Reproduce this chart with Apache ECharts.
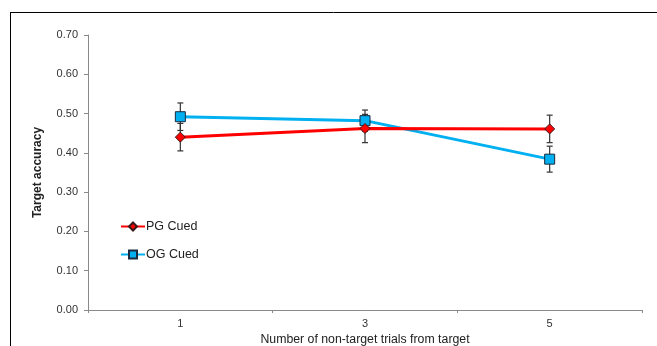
<!DOCTYPE html>
<html><head><meta charset="utf-8">
<script src="https://cdn.jsdelivr.net/npm/echarts@6/dist/echarts.min.js"></script>
<style>html,body{margin:0;padding:0;background:#fff}#c{width:657px;height:346px}</style>
</head><body><div id="c"></div>
<script>
const categories = ['1', '3', '5'];
const pgMean = [0.440, 0.462, 0.461];
const pgErr  = [0.035, 0.036, 0.035];
const ogMean = [0.492, 0.482, 0.384];
const ogErr  = [0.035, 0.027, 0.033];

function errData(mean, err) {
  return mean.map((m, i) => [i, m - err[i], m + err[i]]);
}
function errRender(params, api) {
  const x = api.value(0);
  const lo = api.coord([x, api.value(1)]);
  const hi = api.coord([x, api.value(2)]);
  const w = 3;
  const st = { stroke: '#333', lineWidth: 1.2 };
  return { type: 'group', children: [
    { type: 'line', shape: { x1: lo[0], y1: lo[1], x2: hi[0], y2: hi[1] }, style: st },
    { type: 'line', shape: { x1: lo[0]-w, y1: lo[1], x2: lo[0]+w, y2: lo[1] }, style: st },
    { type: 'line', shape: { x1: hi[0]-w, y1: hi[1], x2: hi[0]+w, y2: hi[1] }, style: st }
  ]};
}
const chart = echarts.init(document.getElementById('c'), null, { renderer: 'canvas' });
const font = 'Liberation Sans, Arial, sans-serif';
chart.setOption({
  animation: false,
  textStyle: { fontFamily: font },
  graphic: [
    { type: 'line', shape: { x1: 10, y1: 12.5, x2: 657, y2: 12.5 }, style: { stroke: '#000', lineWidth: 1 } },
    { type: 'line', shape: { x1: 10.5, y1: 12, x2: 10.5, y2: 346 }, style: { stroke: '#000', lineWidth: 1 } }
  ],
  grid: { left: 88, top: 35, right: 15, bottom: 36, containLabel: false, outerBoundsMode: 'none' },
  legend: {
    orient: 'vertical', left: 115, top: 215, itemGap: 15,
    itemWidth: 24, itemHeight: 10,
    textStyle: { fontSize: 12.5, color: '#222', fontFamily: font, padding: [0, 0, 0, -4] },
    data: ['PG Cued', 'OG Cued']
  },
  xAxis: {
    type: 'category', data: categories, boundaryGap: true,
    name: 'Number of non-target trials from target', nameLocation: 'middle', nameGap: 21,
    nameTextStyle: { fontSize: 12.3, color: '#222' },
    axisLine: { lineStyle: { color: '#8a8a8a' } },
    axisTick: { show: true, length: 3, alignWithLabel: false, lineStyle: { color: '#8a8a8a' } },
    axisLabel: { fontSize: 11, color: '#333', margin: 8 }
  },
  yAxis: {
    type: 'value', min: 0, max: 0.7, interval: 0.1,
    name: 'Target accuracy', nameLocation: 'middle', nameGap: 44,
    nameTextStyle: { fontSize: 12, fontWeight: 'bold', color: '#222' },
    axisLine: { show: true, lineStyle: { color: '#8a8a8a' } },
    axisTick: { show: true, length: 4, lineStyle: { color: '#8a8a8a' } },
    splitLine: { show: false },
    axisLabel: { fontSize: 11, color: '#333', margin: 10, formatter: v => v.toFixed(2) }
  },
  series: [
    { type: 'custom', name: 'pgErr', renderItem: errRender, data: errData(pgMean, pgErr), z: 1, encode: { x: 0, y: [1, 2] } },
    { type: 'custom', name: 'ogErr', renderItem: errRender, data: errData(ogMean, ogErr), z: 1, encode: { x: 0, y: [1, 2] } },
    { type: 'line', name: 'PG Cued', data: pgMean, z: 3,
      lineStyle: { color: '#ff0000', width: 3 },
      itemStyle: { color: '#ff0000', borderColor: '#3a1a1a', borderWidth: 1 },
      symbol: 'diamond', symbolSize: 10 },
    { type: 'line', name: 'OG Cued', data: ogMean, z: 2,
      lineStyle: { color: '#00b0f0', width: 3 },
      itemStyle: { color: '#00b0f0', borderColor: '#1a2a40', borderWidth: 1 },
      symbol: 'rect', symbolSize: 10 }
  ]
});
</script></body></html>
